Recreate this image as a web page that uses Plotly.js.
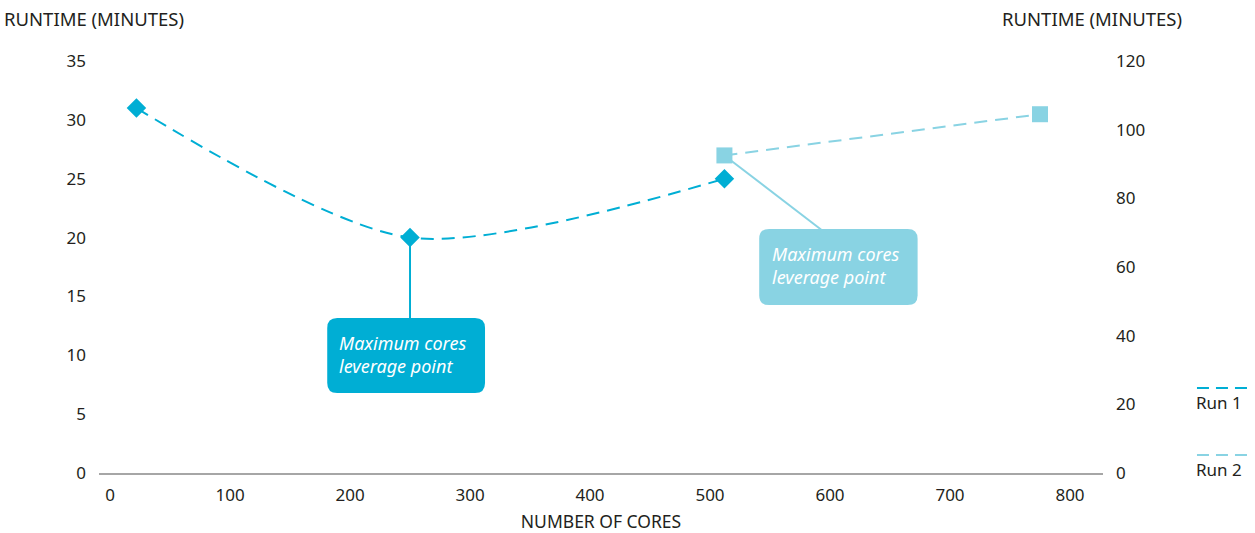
<!DOCTYPE html>
<html>
<head>
<meta charset="utf-8">
<script src="https://cdn.plot.ly/plotly-3.0.1.min.js"></script>
<style>html,body{margin:0;padding:0;background:#fff;}#chart{width:1255px;height:533px;}</style>
</head>
<body>
<div id="chart"></div>
<script>
// ---- data ----
var runOneCores = [22, 250, 512];
var runOneMinutes = [31.0, 20.0, 25.0];
var runTwoCores = [512, 775];
var runTwoMinutes = [92.5, 104.5];
var xTickVals = [0, 100, 200, 300, 400, 500, 600, 700, 800];
var leftTickVals = [0, 5, 10, 15, 20, 25, 30, 35];
var rightTickVals = [0, 20, 40, 60, 80, 100, 120];
var seriesNames = ['Run 1', 'Run 2'];
var calloutText = 'Maximum cores<br>leverage point';

var c1 = '#00AED4';
var c2 = '#89D3E3';
var txt = '#231f20';
var font = '"Noto Sans", "Open Sans", sans-serif';

function roundRect(x0, x1, y0, y1, rx, ry) {
  return 'M ' + (x0 + rx) + ',' + y0 +
    ' L ' + (x1 - rx) + ',' + y0 +
    ' Q ' + x1 + ',' + y0 + ' ' + x1 + ',' + (y0 + ry) +
    ' L ' + x1 + ',' + (y1 - ry) +
    ' Q ' + x1 + ',' + y1 + ' ' + (x1 - rx) + ',' + y1 +
    ' L ' + (x0 + rx) + ',' + y1 +
    ' Q ' + x0 + ',' + y1 + ' ' + x0 + ',' + (y1 - ry) +
    ' L ' + x0 + ',' + (y0 + ry) +
    ' Q ' + x0 + ',' + y0 + ' ' + (x0 + rx) + ',' + y0 + ' Z';
}

var traces = [
  {
    x: runOneCores, y: runOneMinutes, name: seriesNames[0], type: 'scatter', mode: 'lines+markers',
    yaxis: 'y',
    line: {color: c1, width: 2, dash: '13px,8px', shape: 'spline', smoothing: 0.8},
    marker: {symbol: 'diamond', size: 15, color: c1}
  },
  {
    x: runTwoCores, y: runTwoMinutes, name: seriesNames[1], type: 'scatter', mode: 'lines+markers',
    yaxis: 'y2',
    line: {color: c2, width: 2, dash: '13px,8px'},
    marker: {symbol: 'square', size: 16, color: c2}
  }
];

var shapes = [
  {type: 'line', xref: 'x', yref: 'y', x0: runOneCores[1], x1: runOneCores[1], y0: runOneMinutes[1], y1: 12.5,
   line: {color: c1, width: 2}, layer: 'below'},
  {type: 'line', xref: 'x', yref: 'y2', x0: runTwoCores[0], y0: runTwoMinutes[0], x1: 596, y1: 70,
   line: {color: c2, width: 2}, layer: 'below'},
  {type: 'path', xref: 'x', yref: 'y', path: roundRect(181, 312.5, 6.8, 13.17, 8.3, 0.85),
   fillcolor: c1, line: {width: 0}, layer: 'above'},
  {type: 'path', xref: 'x', yref: 'y2', path: roundRect(541, 673, 48.9, 71.1, 8.3, 2.9),
   fillcolor: c2, line: {width: 0}, layer: 'above'},
  {type: 'line', xref: 'paper', yref: 'paper', x0: 1.0936, x1: 1.1444, y0: 0.2063, y1: 0.2063,
   line: {color: c1, width: 2, dash: '12px,7px'}},
  {type: 'line', xref: 'paper', yref: 'paper', x0: 1.0936, x1: 1.1444, y0: 0.0437, y1: 0.0437,
   line: {color: c2, width: 2, dash: '12px,7px'}}
];

var annotations = [
  {xref: 'x', yref: 'y', x: 191.7, y: 10.1, xshift: -3, xanchor: 'left', yanchor: 'middle', align: 'left',
   text: '<i>' + calloutText + '</i>', showarrow: false, font: {family: font, size: 18, color: '#ffffff'}},
  {xref: 'x', yref: 'y2', x: 552.5, y: 60.4, xshift: -3, xanchor: 'left', yanchor: 'middle', align: 'left',
   text: '<i>' + calloutText + '</i>', showarrow: false, font: {family: font, size: 18, color: '#ffffff'}},
  {xref: 'paper', yref: 'paper', x: -0.0936, y: 1, xshift: -3, yshift: 43, xanchor: 'left', yanchor: 'middle',
   text: 'RUNTIME (MINUTES)', showarrow: false, font: {family: font, size: 18.5, color: txt}},
  {xref: 'paper', yref: 'paper', x: 0.9004, y: 1, xshift: -3, yshift: 43, xanchor: 'left', yanchor: 'middle',
   text: 'RUNTIME (MINUTES)', showarrow: false, font: {family: font, size: 18.5, color: txt}},
  {xref: 'paper', yref: 'paper', x: 1.0936, y: 0.1723, xshift: -3, xanchor: 'left', yanchor: 'middle',
   text: seriesNames[0], showarrow: false, font: {family: font, size: 17, color: txt}},
  {xref: 'paper', yref: 'paper', x: 1.0936, y: 0.0097, xshift: -3, xanchor: 'left', yanchor: 'middle',
   text: seriesNames[1], showarrow: false, font: {family: font, size: 17, color: txt}}
];

var layout = {
  width: 1255, height: 533,
  margin: {l: 99, r: 152, t: 61, b: 60},
  paper_bgcolor: '#ffffff', plot_bgcolor: '#ffffff',
  showlegend: false,
  font: {family: font, size: 17, color: txt},
  xaxis: {
    range: [-9.2, 827.5], tickvals: xTickVals, ticktext: xTickVals.map(String),
    showgrid: false, zeroline: false, showline: true, linecolor: '#a6a6a6', linewidth: 2,
    ticks: '', ticklabelstandoff: 6,
    title: {text: 'NUMBER OF CORES', font: {family: font, size: 17.5, color: txt}, standoff: 14}
  },
  yaxis: {
    range: [0, 35], tickvals: leftTickVals, ticktext: leftTickVals.map(String),
    showgrid: false, zeroline: false, showline: false, ticks: '', ticklabelstandoff: 12
  },
  yaxis2: {
    range: [0, 120], tickvals: rightTickVals, ticktext: rightTickVals.map(String),
    overlaying: 'y', side: 'right',
    showgrid: false, zeroline: false, showline: false, ticks: '', ticklabelstandoff: 12
  },
  shapes: shapes,
  annotations: annotations
};

Plotly.newPlot('chart', traces, layout, {displayModeBar: false, staticPlot: true});
</script>
</body>
</html>
